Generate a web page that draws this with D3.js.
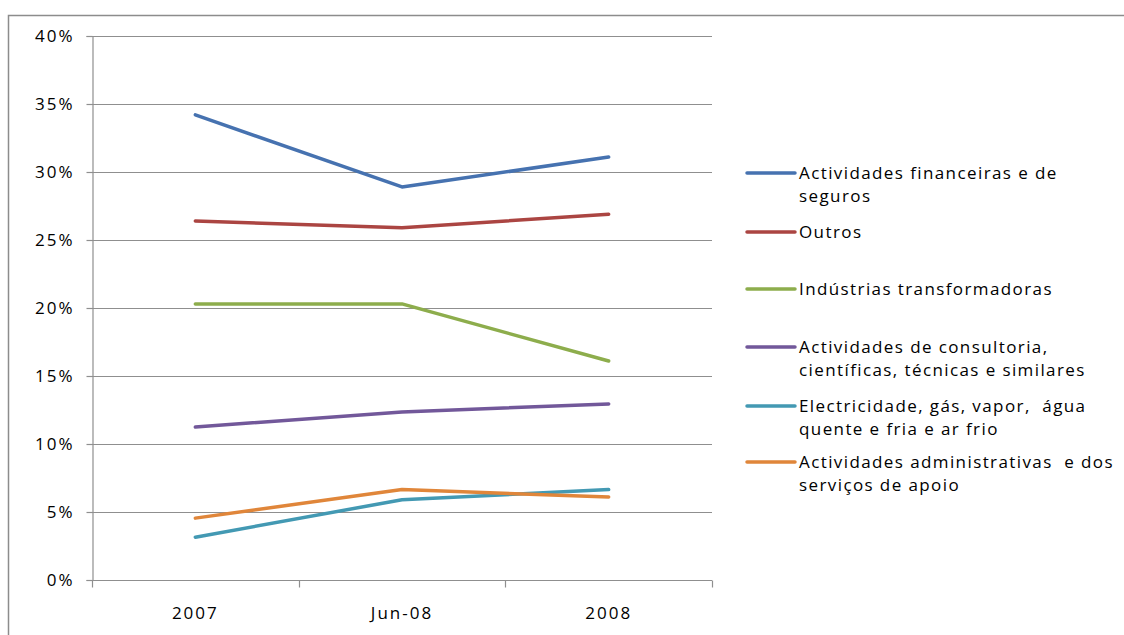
<!DOCTYPE html>
<html>
<head>
<meta charset="utf-8">
<script src="https://cdn.jsdelivr.net/npm/d3@7"></script>
<style>
  html, body { margin: 0; padding: 0; background: #fff; }
  svg { display: block; }
  text { font-family: "Open Sans", "Noto Sans", sans-serif; fill: #000; }
</style>
</head>
<body>
<svg id="chart" width="1124" height="635"></svg>
<script>
// Periods on the horizontal axis
const periods = ["2007", "Jun-08", "2008"];

// Share of each sector (%)
const financeiras     = [34.2, 28.9, 31.1];
const outros          = [26.4, 25.9, 26.9];
const industrias      = [20.3, 20.3, 16.1];
const consultoria     = [11.25, 12.35, 12.95];
const electricidade   = [3.15, 5.9, 6.65];
const administrativas = [4.55, 6.65, 6.1];

// Legend labels (wrapped into lines)
const seriesNames = [
  ["Actividades financeiras e de", "seguros"],
  ["Outros"],
  ["Indústrias transformadoras"],
  ["Actividades de consultoria,", "científicas, técnicas e similares"],
  ["Electricidade, gás, vapor,  água", "quente e fria e ar frio"],
  ["Actividades administrativas  e dos", "serviços de apoio"]
];
const seriesColors = ["#4672B0", "#AB4542", "#8DAD4C", "#72589A", "#4399B3", "#E0863A"];
const yTicks = [0, 5, 10, 15, 20, 25, 30, 35, 40];

const seriesValues = [financeiras, outros, industrias, consultoria, electricidade, administrativas];
const series = seriesValues.map((v, i) => ({ values: v, names: seriesNames[i], color: seriesColors[i] }));

const svg = d3.select("#chart");
const plotLeft = 92, plotRight = 712, plotTop = 36, plotBottom = 580;
const axisFont = { size: "17px", spacing: "2px" };
const legendFont = { size: "17px", spacing: "1.4px" };

// outer chart frame
svg.append("rect")
  .attr("x", 8.5).attr("y", 15.5)
  .attr("width", 1200).attr("height", 700)
  .attr("fill", "none").attr("stroke", "#8c8c8c").attr("stroke-width", 1.5);

const x = d3.scaleBand().domain(periods).range([plotLeft, plotRight]);
const y = d3.scaleLinear().domain([0, 40]).range([plotBottom, plotTop]);

// horizontal gridlines
svg.append("g")
  .selectAll("line")
  .data(yTicks.filter(t => t > 0))
  .join("line")
  .attr("x1", plotLeft).attr("x2", plotRight)
  .attr("y1", d => Math.round(y(d)) + 0.5).attr("y2", d => Math.round(y(d)) + 0.5)
  .attr("stroke", "#8f8f8f").attr("stroke-width", 1.2);

// y axis
const yAxis = svg.append("g")
  .attr("transform", `translate(${plotLeft + 0.5},0)`)
  .call(d3.axisLeft(y).tickValues(yTicks).tickFormat(d => d + "%").tickSize(6).tickPadding(12));
yAxis.select(".domain").attr("stroke", "#8f8f8f").attr("stroke-width", 1.2);
yAxis.selectAll(".tick line").attr("stroke", "#8f8f8f").attr("stroke-width", 1.2);
yAxis.selectAll(".tick text")
  .style("font-size", axisFont.size)
  .style("letter-spacing", axisFont.spacing)
  .style("font-family", "'Open Sans', sans-serif")
  .attr("fill", "#000");

// x axis: ticks at band boundaries, labels at band centres
const xAxisG = svg.append("g").attr("transform", `translate(0,${plotBottom + 0.5})`);
xAxisG.append("line")
  .attr("x1", plotLeft).attr("x2", plotRight)
  .attr("stroke", "#8f8f8f").attr("stroke-width", 1.2);
const boundaries = periods.map(p => x(p)).concat([x(periods[periods.length - 1]) + x.bandwidth()]);
xAxisG.selectAll("line.tk")
  .data(boundaries)
  .join("line").attr("class", "tk")
  .attr("x1", d => Math.round(d) + 0.5).attr("x2", d => Math.round(d) + 0.5)
  .attr("y1", 0).attr("y2", 7)
  .attr("stroke", "#8f8f8f").attr("stroke-width", 1.2);
xAxisG.selectAll("text")
  .data(periods)
  .join("text")
  .attr("x", d => x(d) + x.bandwidth() / 2)
  .attr("y", 38)
  .attr("text-anchor", "middle")
  .style("font-size", axisFont.size)
  .style("letter-spacing", axisFont.spacing)
  .text(d => d);

// series lines
const line = d3.line()
  .x((d, i) => x(periods[i]) + x.bandwidth() / 2)
  .y(d => y(d));

svg.append("g")
  .selectAll("path")
  .data(series)
  .join("path")
  .attr("d", d => line(d.values))
  .attr("fill", "none")
  .attr("stroke", d => d.color)
  .attr("stroke-width", 3.5)
  .attr("stroke-linecap", "round")
  .attr("stroke-linejoin", "round");

// legend
const legendY = [173, 232, 289, 347, 406, 462];
const legend = svg.append("g");
series.forEach((s, i) => {
  const g = legend.append("g").attr("transform", `translate(0,${legendY[i]})`);
  g.append("line")
    .attr("x1", 747).attr("x2", 795)
    .attr("y1", 0).attr("y2", 0)
    .attr("stroke", s.color).attr("stroke-width", 3.5)
    .attr("stroke-linecap", "round");
  s.names.forEach((t, j) => {
    g.append("text")
      .attr("x", 799)
      .attr("y", j * 23 + 6)
      .style("font-size", legendFont.size)
      .style("letter-spacing", legendFont.spacing)
      .style("white-space", "pre")
      .text(t);
  });
});
</script>
</body>
</html>
